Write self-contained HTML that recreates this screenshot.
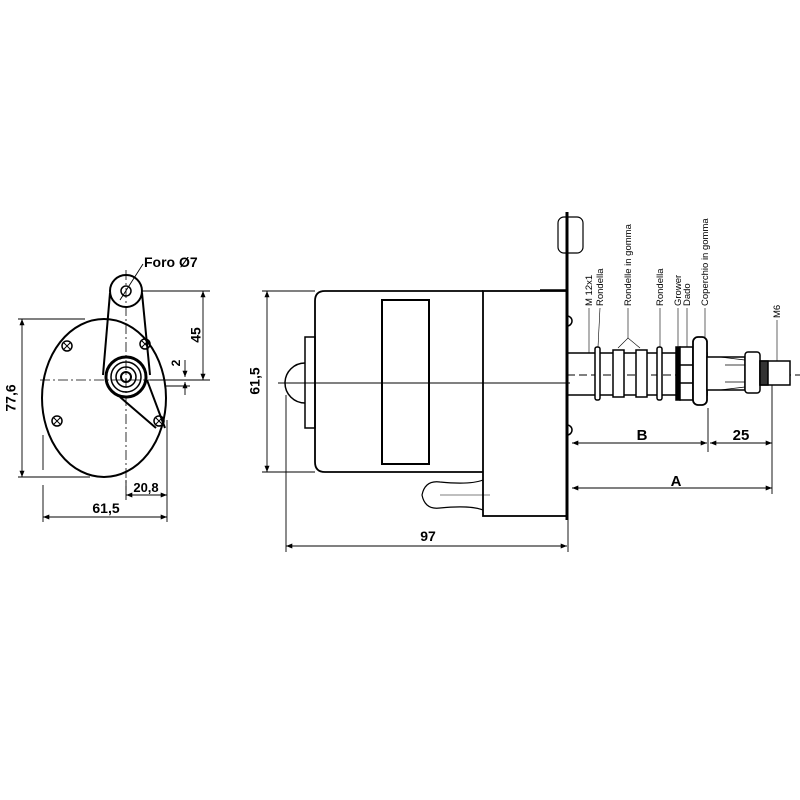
<!DOCTYPE html>
<html><head><meta charset="utf-8"><style>
html,body{margin:0;padding:0;background:#fff}
svg{display:block}
text{font-family:"Liberation Sans",sans-serif;fill:#000}
</style></head><body>
<svg width="800" height="800" viewBox="0 0 800 800" xmlns="http://www.w3.org/2000/svg">
<defs>
<marker id="a" viewBox="0 0 10 10" refX="10" refY="5" markerWidth="7" markerHeight="7" orient="auto-start-reverse"><path d="M0,1 L10,5 L0,9 z" fill="#000"/></marker>
</defs>
<g stroke="#000" fill="none" stroke-width="1.5">
<ellipse cx="104" cy="398" rx="62" ry="79" stroke-width="2"/>
<line x1="40" y1="380" x2="175" y2="380" stroke-width="0.8" stroke-dasharray="10,3,2,3"/>
<line x1="126" y1="270" x2="126" y2="490" stroke-width="0.8" stroke-dasharray="10,3,2,3"/>
<circle cx="126" cy="291" r="16" stroke-width="2"/>
<circle cx="126" cy="291" r="5"/>
<line x1="110" y1="293" x2="103" y2="375" stroke-width="2"/>
<line x1="142" y1="293" x2="150" y2="375" stroke-width="2"/>
<line x1="147" y1="380" x2="165" y2="428" stroke-width="2"/>
<line x1="120" y1="397" x2="156" y2="428" stroke-width="2"/>
<circle cx="126" cy="377" r="20" stroke-width="3"/>
<circle cx="126" cy="377" r="15" stroke-width="1.5"/>
<circle cx="126" cy="377" r="10"/>
<circle cx="126" cy="377" r="5" stroke-width="2"/>
<g stroke-width="1.5">
<circle cx="67" cy="346" r="5"/><circle cx="145" cy="344" r="5"/>
<circle cx="57" cy="421" r="5"/><circle cx="159" cy="421" r="5"/>
<path d="M64,343 l6,6 M70,343 l-6,6 M142,341 l6,6 M148,341 l-6,6 M54,418 l6,6 M60,418 l-6,6 M156,418 l6,6 M162,418 l-6,6" stroke-width="1"/>
</g>
<g stroke-width="0.9">
<line x1="142" y1="291" x2="210" y2="291"/>
<line x1="150" y1="380" x2="210" y2="380"/>
<line x1="203" y1="291" x2="203" y2="380" marker-start="url(#a)" marker-end="url(#a)"/>
<line x1="185" y1="360" x2="185" y2="377" marker-end="url(#a)"/>
<line x1="185" y1="395" x2="185" y2="382" marker-end="url(#a)"/>
<line x1="166" y1="386" x2="190" y2="386"/>
<line x1="18" y1="319" x2="85" y2="319"/>
<line x1="18" y1="477" x2="90" y2="477"/>
<line x1="22" y1="319" x2="22" y2="477" marker-start="url(#a)" marker-end="url(#a)"/>
<line x1="43" y1="435" x2="43" y2="470"/>
<line x1="43" y1="485" x2="43" y2="522"/>
<line x1="167" y1="420" x2="167" y2="522"/>
<line x1="126" y1="480" x2="126" y2="500"/>
<line x1="126" y1="495" x2="167" y2="495" marker-start="url(#a)" marker-end="url(#a)"/>
<line x1="43" y1="517" x2="167" y2="517" marker-start="url(#a)" marker-end="url(#a)"/>
<line x1="143" y1="264" x2="120" y2="300"/>
</g>
<path d="M483,291 L325,291 Q315,291 315,301 L315,462 Q315,472 325,472 L483,472" stroke-width="1.8"/>
<rect x="382" y="300" width="47" height="164" stroke-width="2"/>
<rect x="483" y="291" width="84" height="225" stroke-width="1.8"/>
<rect x="305" y="337" width="10" height="91"/>
<path d="M305,363 A20,20 0 0 0 305,403"/>
<line x1="278" y1="383" x2="570" y2="383" stroke-width="0.9"/>
<path d="M483,480 Q470,485 440,482 Q425,480 422,495 Q425,510 440,508 Q470,505 483,510" stroke-width="1.2"/>
<line x1="440" y1="495" x2="490" y2="495" stroke-width="0.6"/>
<line x1="567" y1="212" x2="567" y2="520" stroke-width="3"/>
<rect x="558" y="217" width="25" height="36" rx="6" stroke-width="1.2"/>
<path d="M567,316 a5,5 0 0 1 0,10 M567,425 a5,5 0 0 1 0,10"/>
<line x1="540" y1="290" x2="567" y2="290"/>
<g stroke-width="0.9">
<line x1="262" y1="291" x2="315" y2="291"/>
<line x1="262" y1="472" x2="315" y2="472"/>
<line x1="267" y1="291" x2="267" y2="472" marker-start="url(#a)" marker-end="url(#a)"/>
<line x1="286" y1="395" x2="286" y2="552"/>
<line x1="568" y1="520" x2="568" y2="552"/>
<line x1="286" y1="546" x2="567" y2="546" marker-start="url(#a)" marker-end="url(#a)"/>
</g>
<rect x="567" y="353" width="140" height="42" stroke-width="1.5"/>
<line x1="567" y1="375" x2="800" y2="375" stroke-width="0.9" stroke-dasharray="8,4"/>
<rect x="595" y="347" width="5" height="53" rx="2" fill="#fff"/>
<rect x="613" y="350" width="11" height="47" fill="#fff"/>
<rect x="636" y="350" width="11" height="47" fill="#fff"/>
<rect x="657" y="347" width="5" height="53" rx="2" fill="#fff"/>
<rect x="676" y="347" width="4" height="53" fill="#000"/>
<rect x="680" y="347" width="13" height="53" fill="#fff" stroke-width="1.5"/>
<path d="M680,365 H693 M680,383 H693"/>
<rect x="693" y="337" width="14" height="68" rx="5" fill="#fff" stroke-width="1.8"/>
<rect x="707" y="357" width="38" height="33" fill="#fff"/>
<path d="M720,357 L745,360 M720,390 L745,387 M725,365 L745,365 M725,382 L745,382" stroke-width="0.8"/>
<rect x="745" y="352" width="15" height="41" rx="3" fill="#fff" stroke-width="1.5"/>
<rect x="760" y="361" width="30" height="24" fill="#fff"/>
<rect x="760" y="361" width="8" height="24" fill="#333"/>
<g stroke-width="0.6">
<line x1="589" y1="308" x2="589" y2="353"/>
<line x1="600" y1="308" x2="598" y2="347"/>
<line x1="628" y1="308" x2="628" y2="338"/>
<path d="M618,348 L628,338 L640,348"/>
<line x1="660" y1="308" x2="660" y2="347"/>
<line x1="678" y1="308" x2="678" y2="347"/>
<line x1="687" y1="308" x2="687" y2="347"/>
<line x1="705" y1="308" x2="705" y2="337"/>
<line x1="777" y1="320" x2="777" y2="361"/>
</g>
<g stroke-width="0.9">
<line x1="708" y1="408" x2="708" y2="452"/>
<line x1="772" y1="385" x2="772" y2="494"/>
<line x1="572" y1="443" x2="707" y2="443" marker-start="url(#a)" marker-end="url(#a)"/>
<line x1="710" y1="443" x2="772" y2="443" marker-start="url(#a)" marker-end="url(#a)"/>
<line x1="572" y1="488" x2="772" y2="488" marker-start="url(#a)" marker-end="url(#a)"/>
</g>
</g>
<g font-weight="bold" font-size="14">
<text x="144" y="267">Foro Ø7</text>
<text x="197" y="335" transform="rotate(-90 197 335)" text-anchor="middle" dominant-baseline="middle">45</text>
<text x="177" y="363" transform="rotate(-90 177 363)" text-anchor="middle" dominant-baseline="middle" font-size="12">2</text>
<text x="12" y="398" transform="rotate(-90 12 398)" text-anchor="middle" dominant-baseline="middle">77,6</text>
<text x="146" y="492" text-anchor="middle" font-size="13">20,8</text>
<text x="106" y="513" text-anchor="middle">61,5</text>
<text x="256" y="381" transform="rotate(-90 256 381)" text-anchor="middle" dominant-baseline="middle">61,5</text>
<text x="428" y="541" text-anchor="middle">97</text>
<text x="642" y="440" text-anchor="middle" font-size="15">B</text>
<text x="741" y="440" text-anchor="middle" font-size="15">25</text>
<text x="676" y="486" text-anchor="middle" font-size="15">A</text>
</g>
<g font-size="9.5">
<text transform="translate(592,306) rotate(-90)">M 12x1</text>
<text transform="translate(603,306) rotate(-90)">Rondella</text>
<text transform="translate(631,306) rotate(-90)">Rondelle in gomma</text>
<text transform="translate(663,306) rotate(-90)">Rondella</text>
<text transform="translate(681,306) rotate(-90)">Grower</text>
<text transform="translate(690,306) rotate(-90)">Dado</text>
<text transform="translate(708,306) rotate(-90)">Coperchio in gomma</text>
<text transform="translate(780,318) rotate(-90)">M6</text>
</g>
</svg>
</body></html>
